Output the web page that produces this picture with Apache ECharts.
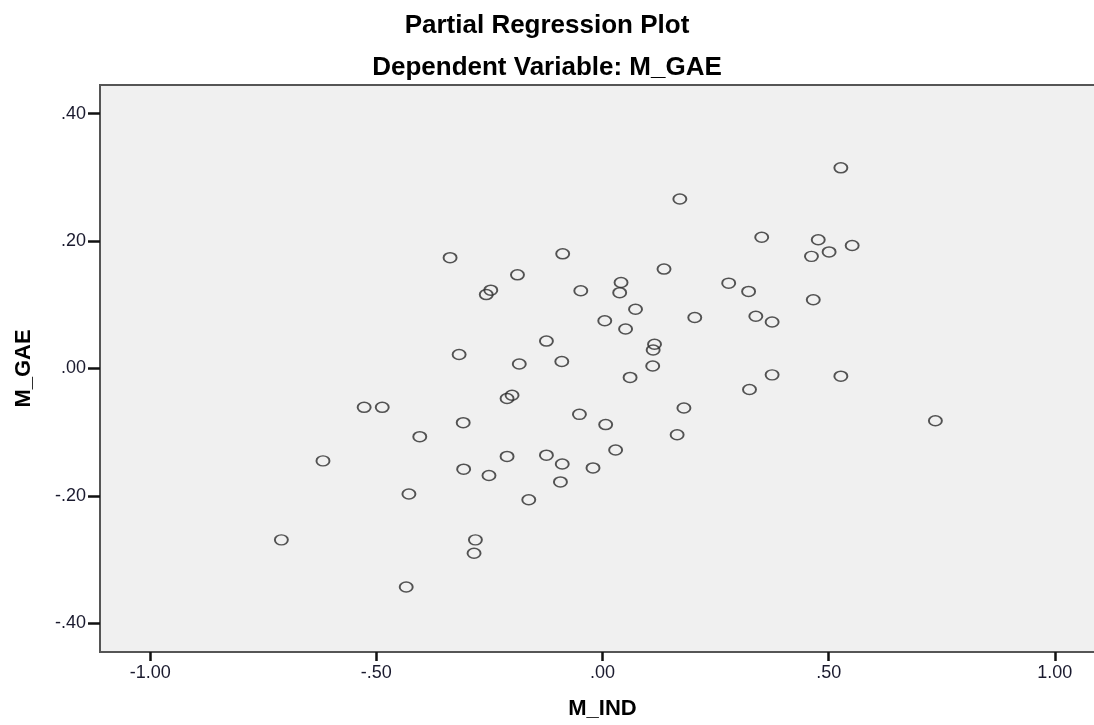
<!DOCTYPE html>
<html>
<head>
<meta charset="utf-8">
<script src="https://cdn.jsdelivr.net/npm/echarts@6/dist/echarts.min.js"></script>
<style>
  html, body { margin: 0; padding: 0; background: #fff; }
  #chart { width: 1094px; height: 725px; }
</style>
</head>
<body>
<div id="chart"></div>
<script>
// values
const mInd = [
  0.527, 0.171, 0.352, 0.477, 0.552, 0.501, 0.462, 0.466, 0.136, 0.041,
  0.038, 0.279, 0.323, 0.073, 0.005, 0.204, 0.051, 0.339, 0.375, 0.115,
  0.112, 0.111, 0.061, 0.375, 0.527, 0.325, 0.180, 0.007, 0.165, 0.029,
  0.736, -0.337, -0.088, -0.188, -0.247, -0.257, -0.048, -0.317, -0.124, -0.184,
  -0.090, -0.200, -0.211, -0.527, -0.487, -0.308, -0.404, -0.051, -0.618, -0.307,
  -0.251, -0.211, -0.124, -0.089, -0.021, -0.093, -0.163, -0.428, -0.710, -0.281,
  -0.284, -0.434
];
const mGae = [
  0.315, 0.266, 0.206, 0.202, 0.193, 0.183, 0.176, 0.108, 0.156, 0.135,
  0.119, 0.134, 0.121, 0.093, 0.075, 0.080, 0.062, 0.082, 0.073, 0.038,
  0.029, 0.004, -0.014, -0.010, -0.012, -0.033, -0.062, -0.088, -0.104, -0.128,
  -0.082, 0.174, 0.180, 0.147, 0.123, 0.116, 0.122, 0.022, 0.043, 0.007,
  0.011, -0.042, -0.047, -0.061, -0.061, -0.085, -0.107, -0.072, -0.145, -0.158,
  -0.168, -0.138, -0.136, -0.150, -0.156, -0.178, -0.206, -0.197, -0.269, -0.269,
  -0.290, -0.343
];
const xTicks = [-1, -0.5, 0, 0.5, 1];
const yTicks = [-0.4, -0.2, 0, 0.2, 0.4];

// SPSS style: .50, -.20, 1.00
function spssFmt(v) {
  let s = Math.abs(v).toFixed(2);
  if (s.charAt(0) === '0') s = s.slice(1);
  return (v < 0 ? '-' : '') + s;
}

const points = mInd.map((x, i) => [x, mGae[i]]);

const chart = echarts.init(document.getElementById('chart'));
const option = {
  animation: false,
  backgroundColor: '#fff',
  title: [
    {
      text: 'Partial Regression Plot',
      left: 'center',
      top: 8,
      textStyle: { fontFamily: 'Liberation Sans', fontWeight: 'bold', fontSize: 26, color: '#000' }
    },
    {
      text: 'Dependent Variable: M_GAE',
      left: 'center',
      top: 50,
      textStyle: { fontFamily: 'Liberation Sans', fontWeight: 'bold', fontSize: 26, color: '#000' }
    }
  ],
  grid: {
    show: true,
    left: 100,
    top: 85,
    right: -11,
    bottom: 73,
    outerBoundsMode: 'none',
    containLabel: false,
    backgroundColor: '#f0f0f0',
    borderColor: '#555',
    borderWidth: 2
  },
  xAxis: {
    type: 'value',
    min: -1.111,
    max: 1.111,
    name: 'M_IND',
    nameLocation: 'middle',
    nameGap: 46,
    nameTextStyle: { fontFamily: 'Liberation Sans', fontWeight: 'bold', fontSize: 22, color: '#000' },
    axisLine: { show: true, onZero: false, lineStyle: { color: '#555', width: 2 } },
    axisTick: { show: true, customValues: xTicks, length: 9, lineStyle: { color: '#111', width: 2.5 } },
    axisLabel: {
      customValues: xTicks,
      formatter: spssFmt,
      margin: 12,
      fontFamily: 'Liberation Sans',
      fontSize: 18,
      color: '#1a1a2e'
    },
    splitLine: { show: false }
  },
  yAxis: {
    type: 'value',
    min: -0.445,
    max: 0.445,
    name: 'M_GAE',
    nameLocation: 'middle',
    nameGap: 65,
    nameTextStyle: { fontFamily: 'Liberation Sans', fontWeight: 'bold', fontSize: 22, color: '#000' },
    axisLine: { show: true, onZero: false, lineStyle: { color: '#555', width: 2 } },
    axisTick: { show: true, customValues: yTicks, length: 12, lineStyle: { color: '#111', width: 2.5 } },
    axisLabel: {
      customValues: yTicks,
      formatter: spssFmt,
      margin: 14,
      fontFamily: 'Liberation Sans',
      fontSize: 18,
      color: '#1a1a2e'
    },
    splitLine: { show: false }
  },
  series: [{
    type: 'scatter',
    data: points,
    symbol: 'circle',
    symbolSize: [13, 10],
    itemStyle: {
      color: 'rgba(0,0,0,0)',
      borderColor: '#2a2a2a',
      borderWidth: 1.7
    },
    emphasis: { disabled: true }
  }]
};
chart.setOption(option);
</script>
</body>
</html>
